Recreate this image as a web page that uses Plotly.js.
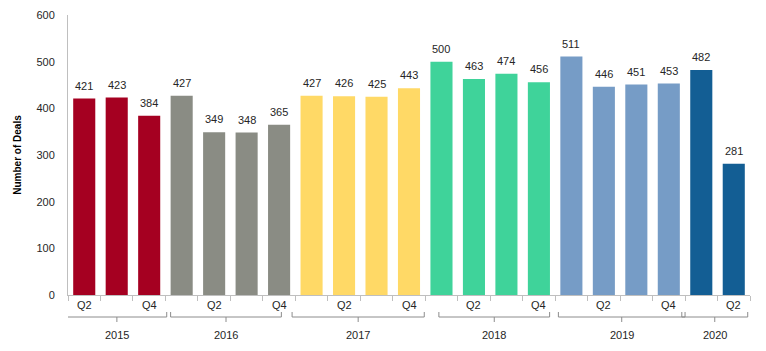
<!DOCTYPE html>
<html>
<head>
<meta charset="utf-8">
<script src="https://cdn.plot.ly/plotly-3.0.1.min.js"></script>
<style>html,body{margin:0;padding:0;background:#fff;}#chart{width:766px;height:351px;}</style>
</head>
<body>
<div id="chart"></div>
<script>
// ---- data ----
var years = ["2015", "2016", "2017", "2018", "2019", "2020"];
var quarters = [
  ["Q2", "Q3", "Q4"],
  ["Q1", "Q2", "Q3", "Q4"],
  ["Q1", "Q2", "Q3", "Q4"],
  ["Q1", "Q2", "Q3", "Q4"],
  ["Q1", "Q2", "Q3", "Q4"],
  ["Q1", "Q2"]
];
var deals = [
  [421, 423, 384],
  [427, 349, 348, 365],
  [427, 426, 425, 443],
  [500, 463, 474, 456],
  [511, 446, 451, 453],
  [482, 281]
];
var yearColors = ["#A50021", "#8A8C84", "#FFD966", "#3FD39A", "#769CC6", "#135E94"];
var shownQuarterLabels = ["Q2", "Q4"];
var yTickVals = [0, 100, 200, 300, 400, 500, 600];

// bracket extents, as offsets (in category units) from the group's first/last bar
var bracketInset = [
  [-0.03, 0.04], [0.16, -0.43], [-0.1, -0.03], [0.42, -0.17], [0.1, 0.0], [-0.1, -0.07]
];

// ---- build ----
var traces = [];
var annotations = [];
var shapes = [];
var idx = 0;
var nTotal = 0;
deals.forEach(function (g) { nTotal += g.length; });

var axisColor = "#BFBFBF";
var txtFont = {family: "Liberation Sans, Arial, sans-serif", size: 11, color: "#262626"};

years.forEach(function (yr, gi) {
  var xs = [], ys = [];
  var start = idx;
  deals[gi].forEach(function (v, qi) {
    xs.push(idx); ys.push(v);
    annotations.push({
      x: idx, y: v, xref: "x", yref: "y", text: String(v), showarrow: false,
      yanchor: "bottom", yshift: 5, font: txtFont
    });
    if (shownQuarterLabels.indexOf(quarters[gi][qi]) >= 0) {
      annotations.push({
        x: idx, y: 0, xref: "x", yref: "paper", text: quarters[gi][qi], showarrow: false,
        yanchor: "top", yshift: -2, font: txtFont
      });
    }
    idx++;
  });
  var end = idx - 1;
  traces.push({
    type: "bar", x: xs, y: ys, name: yr,
    marker: {color: yearColors[gi], line: {width: 0}},
    width: 0.68, hoverinfo: "x+y"
  });
  var x0 = start - 0.5 + bracketInset[gi][0];
  var x1 = end + 0.5 + bracketInset[gi][1];
  var xm = (x0 + x1) / 2;
  // bracket: ends rising up, a horizontal line, and a centre tick down
  shapes.push({
    type: "path", xref: "x", yref: "paper", ysizemode: "pixel", yanchor: 0,
    path: "M" + x0 + "," + (-17) + " L" + x0 + "," + (-22) + " L" + x1 + "," + (-22) + " L" + x1 + "," + (-17),
    line: {color: "#8C8C8C", width: 1}
  });
  shapes.push({
    type: "line", xref: "x", yref: "paper", ysizemode: "pixel", yanchor: 0,
    x0: xm, x1: xm, y0: -22, y1: -27,
    line: {color: "#8C8C8C", width: 1}
  });
  annotations.push({
    x: xm, y: 0, xref: "x", yref: "paper", text: yr, showarrow: false,
    yanchor: "middle", yshift: -40, font: txtFont
  });
});

// boundary tick marks on the category axis
var boundaryTicks = [];
for (var b = 0; b <= nTotal; b++) boundaryTicks.push(b - 0.5);

var layout = {
  width: 766, height: 351,
  margin: {l: 68, r: 16, t: 15, b: 56},
  paper_bgcolor: "#ffffff", plot_bgcolor: "#ffffff",
  showlegend: false,
  barmode: "overlay",
  xaxis: {
    type: "linear", range: [-0.5, nTotal - 0.5],
    tickvals: boundaryTicks, showticklabels: false,
    ticks: "outside", ticklen: 5, tickcolor: axisColor, tickwidth: 1,
    showline: true, linecolor: axisColor, linewidth: 1,
    showgrid: false, zeroline: false, fixedrange: true
  },
  yaxis: {
    range: [0, 600], tickvals: yTickVals,
    showline: true, linecolor: axisColor, linewidth: 1,
    showgrid: false, zeroline: false, ticks: "",
    ticklabelstandoff: 10,
    tickfont: txtFont,
    title: {text: "Number of Deals", font: {family: "Liberation Sans, Arial, sans-serif", size: 10, color: "#000000", weight: "bold"}, standoff: 12},
    fixedrange: true
  },
  annotations: annotations,
  shapes: shapes
};

Plotly.newPlot("chart", traces, layout, {displayModeBar: false, staticPlot: true});
</script>
</body>
</html>
